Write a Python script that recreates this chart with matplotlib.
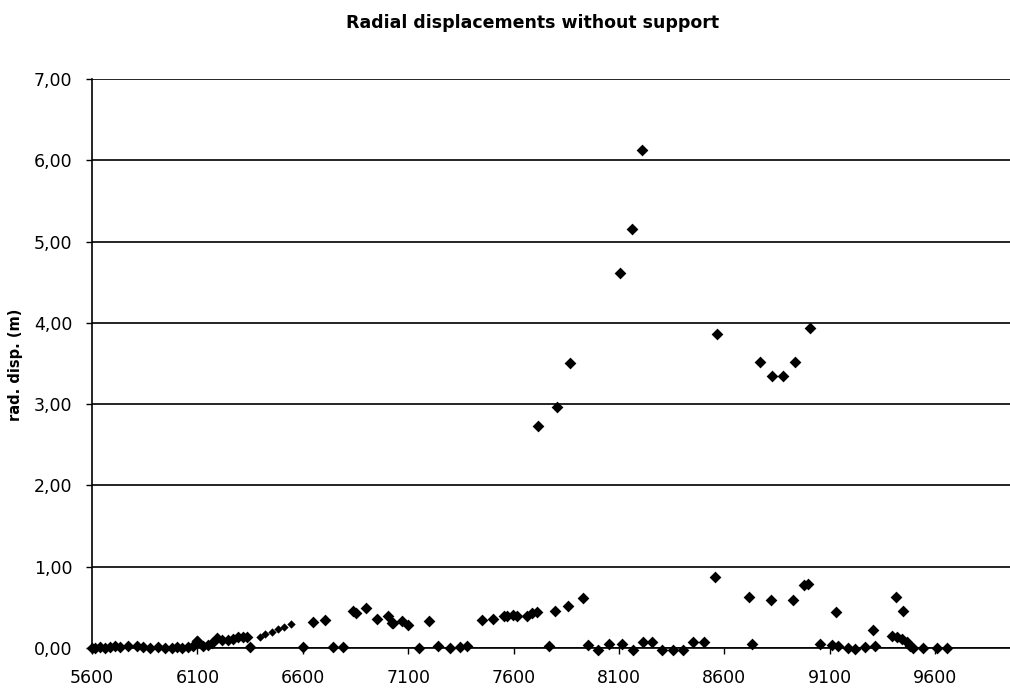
import matplotlib.pyplot as plt
from matplotlib.ticker import FuncFormatter

# chainage / station
station = [
    5600, 5614, 5638, 5662, 5685, 5709, 5733, 5772, 5812, 5843, 5875, 5915,
    5946, 5978, 6002, 6025, 6057, 6081, 6097, 6128, 6152, 6168,
    6097, 6191, 6215, 6247, 6270, 6294, 6318, 6334, 6350,
    6650, 6705, 6600, 6745, 6792,
    6840, 6855, 6898, 6950, 7006, 7022, 7029, 7069, 7100, 7200,
    7153, 7243, 7298, 7346, 7380,
    7449, 7504, 7554, 7570, 7599, 7615, 7662, 7686, 7710, 7796, 7859, 7931,
    7769, 7955, 8002, 8054, 8113, 8168, 8215, 8255, 8302, 8358, 8405, 8449, 8503,
    7717, 7807, 7868, 8106, 8160, 8208,
    8555, 8566, 8717, 8729, 8767, 8820, 8827, 8876, 8927, 8935, 8980, 8995, 9006,
    9054, 9109, 9128, 9141, 9188, 9220, 9267, 9303, 9314,
    9394, 9414, 9417, 9441, 9446, 9465, 9480, 9496, 9543, 9607, 9654,
]
# radial displacement (m)
disp = [
    0.00, 0.00, 0.01, 0.00, 0.01, 0.02, 0.01, 0.02, 0.02, 0.01, 0.00, 0.01,
    0.00, 0.00, 0.01, 0.00, 0.01, 0.02, 0.09, 0.03, 0.04, 0.06,
    0.09, 0.12, 0.10, 0.10, 0.11, 0.13, 0.13, 0.14, 0.01,
    0.32, 0.35, 0.01, 0.01, 0.01,
    0.45, 0.43, 0.49, 0.36, 0.39, 0.31, 0.31, 0.33, 0.28, 0.33,
    0.00, 0.03, 0.00, 0.01, 0.03,
    0.34, 0.36, 0.39, 0.40, 0.41, 0.40, 0.40, 0.43, 0.44, 0.45, 0.52, 0.62,
    0.02, 0.04, -0.02, 0.05, 0.05, -0.02, 0.07, 0.07, -0.02, -0.02, -0.02, 0.07, 0.07,
    2.73, 2.97, 3.51, 4.61, 5.16, 6.13,
    0.87, 3.86, 0.63, 0.05, 3.52, 0.59, 3.35, 3.35, 0.59, 3.52, 0.77, 0.79, 3.94,
    0.05, 0.04, 0.44, 0.02, 0.00, -0.01, 0.01, 0.22, 0.02,
    0.15, 0.63, 0.13, 0.11, 0.46, 0.08, 0.03, 0.00, 0.00, 0.00, 0.00,
]
# smaller markers on the rising branch around 6400-6550
station_small = [6397, 6421, 6452, 6484, 6511, 6543]
disp_small = [0.13, 0.17, 0.20, 0.23, 0.26, 0.30]

y_ticks = [0, 1, 2, 3, 4, 5, 6, 7]
x_ticks = [5600, 6100, 6600, 7100, 7600, 8100, 8600, 9100, 9600]

plt.rcParams['font.family'] = ['DejaVu Sans']

fig = plt.figure(figsize=(10.1, 6.89), dpi=100)
ax = fig.add_axes([0.091, 0.0595, 0.909, 0.8255])

ax.scatter(station, disp, marker='D', s=36, color='black', linewidths=0,
           zorder=3, clip_on=False)
ax.scatter(station_small, disp_small, marker='D', s=18, color='black',
           linewidths=0, zorder=3, clip_on=False)

ax.set_xlim(5600, 9955)
ax.set_ylim(0, 7)
ax.set_xticks(x_ticks)
ax.set_yticks(y_ticks)
ax.yaxis.set_major_formatter(FuncFormatter(lambda v, p: f'{v:.2f}'.replace('.', ',')))
ax.grid(axis='y', color='black', linewidth=1.2)
ax.set_axisbelow(True)

for s in ['top', 'right']:
    ax.spines[s].set_visible(False)
ax.spines['left'].set_linewidth(1.2)
ax.spines['bottom'].set_linewidth(1.2)
ax.tick_params(axis='both', direction='out', length=4, width=1, labelsize=12.5,
               color='black')
ax.tick_params(axis='x', pad=11)
ax.tick_params(axis='y', pad=10)

fig.text(0.015, 0.47, 'rad. disp. (m)', rotation=90, ha='center', va='center',
         fontsize=10.5, fontweight='bold')
fig.text(0.527, 0.966, 'Radial displacements without support', ha='center',
         va='center', fontsize=12.5, fontweight='bold')

fig.savefig('out.png', dpi=100)
